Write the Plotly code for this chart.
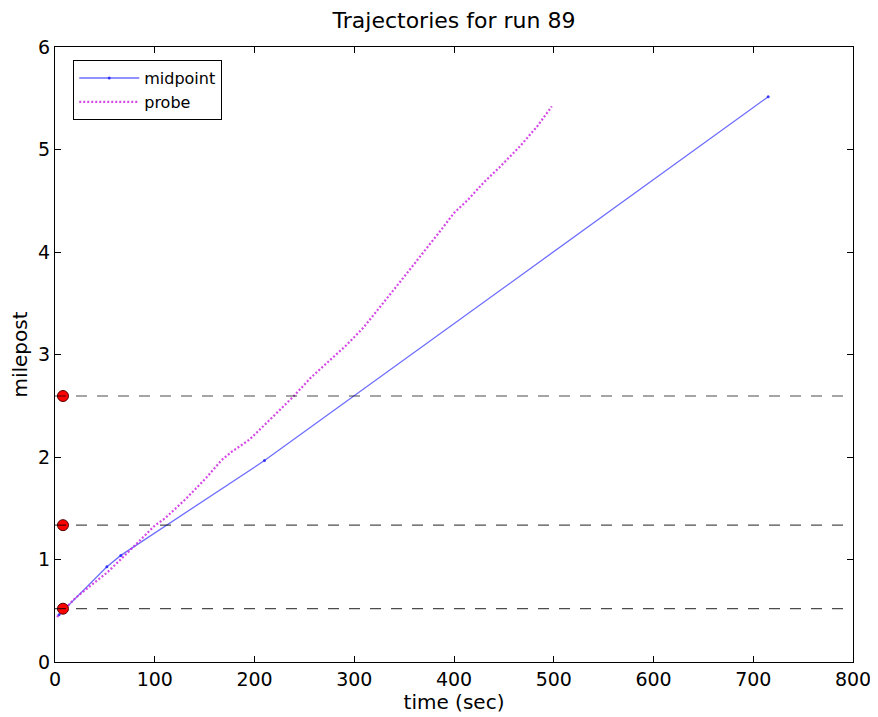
import plotly.graph_objects as go

# Data
mid_t = [4, 52, 66, 210, 715]
mid_mp = [0.46, 0.93, 1.04, 1.965, 5.515]

probe_t = [2, 20, 35, 52, 70, 85, 100, 110, 130, 150, 167, 177, 195, 215, 227, 239,
           256, 276, 292, 309, 325, 342, 355, 369, 385, 400, 414, 430, 446, 466, 483, 498]
probe_mp = [0.44, 0.62, 0.74, 0.87, 1.04, 1.19, 1.33, 1.40, 1.58, 1.78, 1.97, 2.05, 2.17, 2.36, 2.47, 2.59,
            2.77, 2.95, 3.09, 3.26, 3.45, 3.66, 3.82, 3.99, 4.19, 4.38, 4.51, 4.68, 4.83, 5.03, 5.22, 5.42]

station_t = [8, 8, 8]
station_mp = [0.52, 1.335, 2.595]

fig = go.Figure()

for y in station_mp:
    fig.add_hline(y=y, line=dict(color="rgba(0,0,0,0.7)", width=1.2, dash="11px,10px"))

fig.add_trace(go.Scatter(
    x=mid_t, y=mid_mp, name="midpoint", mode="lines+markers",
    line=dict(color="rgba(60,60,255,0.75)", width=1.3),
    marker=dict(size=3, color="rgba(40,40,255,0.9)"),
))
fig.add_trace(go.Scatter(
    x=probe_t, y=probe_mp, name="probe", mode="lines",
    line=dict(color="rgba(205,40,225,0.85)", width=2.2, dash="2px,2px"),
))
fig.add_trace(go.Scatter(
    x=station_t, y=station_mp, mode="markers", showlegend=False,
    marker=dict(size=11, color="#ff0000", line=dict(color="#550000", width=1)),
))

axis_common = dict(
    showgrid=False, zeroline=False, showline=True, linecolor="black", linewidth=1.2,
    mirror="allticks", ticks="inside", ticklen=6, tickwidth=1, tickcolor="black",
    tickfont=dict(size=19, color="black"), automargin=False,
)
fig.update_xaxes(range=[0, 800], tickvals=[0, 100, 200, 300, 400, 500, 600, 700, 800],
                 title=dict(text="time (sec)", font=dict(size=20, color="black"), standoff=4),
                 **axis_common)
fig.update_yaxes(range=[0, 6], tickvals=[0, 1, 2, 3, 4, 5, 6],
                 title=dict(text="milepost", font=dict(size=20, color="black"), standoff=8),
                 **axis_common)

# page body has an 8px default margin, so the figure is sized/offset to compensate
fig.update_layout(
    width=870, height=709,
    margin=dict(l=47, r=25, t=39, b=55),
    plot_bgcolor="white", paper_bgcolor="white",
    font=dict(family="DejaVu Sans", color="black"),
    title=dict(text="Trajectories for run 89", xref="paper", x=0.5, xanchor="center",
               yref="container", y=0.983, yanchor="middle",
               font=dict(size=22, color="black")),
    legend=dict(x=0.0226, y=0.979, xanchor="left", yanchor="top", bgcolor="white",
                bordercolor="black", borderwidth=1.2, font=dict(size=16, color="black"),
                tracegroupgap=0, itemwidth=60),
)

fig.write_html("out.html")
